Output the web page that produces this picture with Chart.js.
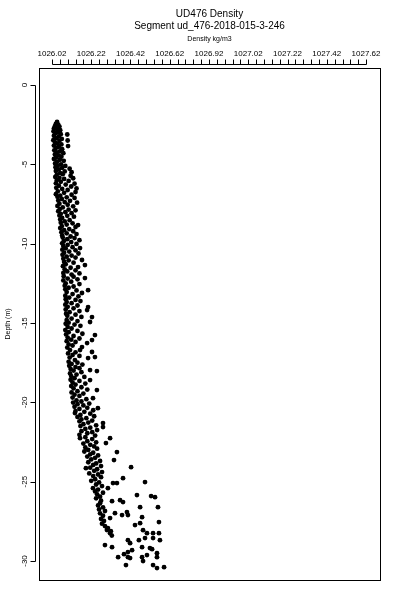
<!DOCTYPE html>
<html>
<head>
<meta charset="utf-8">
<script src="https://cdn.jsdelivr.net/npm/chart.js@4/dist/chart.umd.min.js"></script>
<style>
  html, body { margin: 0; padding: 0; background: #fff; }
  canvas { display: block; }
</style>
</head>
<body>
<canvas id="density-profile" width="400" height="600"></canvas>
<script>
// tick labels as printed on the original plot
var xTickLabels = ["1026.02", "1026.22", "1026.42", "1026.62", "1026.92", "1027.02", "1027.22", "1027.42", "1027.62"];
var xTickValues = [];
for (var i = 0; i <= 40; i++) xTickValues.push(+(1026.02 + i * 0.04).toFixed(2));
var yTickValues = [0, -5, -10, -15, -20, -25, -30];

// [density kg/m3, depth m]
var surfaceLayer = [
  [1026.046,-2.33],[1026.040,-2.45],[1026.052,-2.50],[1026.035,-2.60],[1026.058,-2.62],[1026.030,-2.75],[1026.045,-2.78],[1026.062,-2.85],
  [1026.028,-2.92],[1026.050,-2.98],[1026.038,-3.05],[1026.065,-3.10],[1026.098,-3.12],[1026.030,-3.20],[1026.055,-3.25],[1026.042,-3.35],
  [1026.070,-3.40],[1026.027,-3.48],[1026.058,-3.52],[1026.100,-3.50],[1026.036,-3.62],[1026.048,-3.70],[1026.068,-3.75],[1026.030,-3.82],
  [1026.102,-3.85],[1026.055,-3.90],[1026.040,-3.98],[1026.072,-4.05],[1026.032,-4.12],[1026.060,-4.18],[1026.045,-4.25],[1026.078,-4.30],
  [1026.035,-4.38],[1026.055,-4.45],[1026.068,-4.52],[1026.040,-4.58],[1026.030,-4.66],[1026.060,-4.72],[1026.080,-4.78],[1026.045,-4.85],
  [1026.036,-4.95],[1026.066,-5.00],
  [1026.050,-5.08],[1026.088,-5.10],[1026.038,-5.18],[1026.072,-5.22],[1026.110,-5.28],[1026.055,-5.32],[1026.040,-5.42],[1026.085,-5.45],
  [1026.120,-5.50],[1026.062,-5.55],[1026.045,-5.65],[1026.075,-5.62],[1026.115,-5.72],[1026.037,-5.80],[1026.058,-5.85],[1026.128,-5.88],
  [1026.082,-5.92],[1026.045,-6.00],[1026.105,-6.05],[1026.065,-6.10],[1026.040,-6.20],[1026.135,-6.22],[1026.090,-6.28],[1026.055,-6.35],
  [1026.118,-6.40],[1026.042,-6.48],[1026.145,-6.52],[1026.072,-6.55],[1026.100,-6.62],[1026.050,-6.70],[1026.140,-6.75],[1026.082,-6.80],
  [1026.040,-6.88],[1026.120,-6.92],[1026.062,-6.98]
];

var upperLayer = [
  [1026.048,-7.05],[1026.095,-7.08],[1026.135,-7.12],[1026.070,-7.18],[1026.052,-7.28],[1026.112,-7.30],[1026.085,-7.38],[1026.148,-7.42],
  [1026.058,-7.48],[1026.100,-7.55],[1026.048,-7.62],[1026.128,-7.65],[1026.075,-7.72],[1026.060,-7.82],[1026.105,-7.85],[1026.140,-7.90],
  [1026.052,-7.96],[1026.088,-8.02],[1026.120,-8.08],[1026.065,-8.12],[1026.058,-8.22],[1026.098,-8.25],[1026.132,-8.30],[1026.072,-8.38],
  [1026.062,-8.48],[1026.110,-8.52],[1026.085,-8.60],[1026.153,-8.83],[1026.065,-8.68],[1026.125,-8.72],[1026.095,-8.80],[1026.070,-8.90],
  [1026.140,-8.95],[1026.062,-9.02],[1026.108,-9.08],[1026.082,-9.15],[1026.128,-9.22],[1026.068,-9.28],[1026.095,-9.35],[1026.145,-9.40],
  [1026.072,-9.48],[1026.115,-9.55],
  [1026.075,-9.62],[1026.135,-9.65],[1026.098,-9.72],[1026.160,-9.78],[1026.080,-9.85],[1026.118,-9.90],[1026.072,-9.98],[1026.145,-10.02],
  [1026.100,-10.08],[1026.078,-10.15],[1026.163,-10.28],[1026.125,-10.22],[1026.090,-10.30],[1026.073,-10.38],[1026.140,-10.42],[1026.108,-10.50],
  [1026.082,-10.58],[1026.155,-10.62],[1026.074,-10.70],[1026.120,-10.75],[1026.095,-10.82],[1026.140,-10.88],[1026.078,-10.95],[1026.173,-11.03],
  [1026.105,-11.05],[1026.082,-11.15],[1026.130,-11.20],[1026.188,-11.35],[1026.090,-11.30],[1026.153,-11.48],[1026.076,-11.42],[1026.115,-11.52],
  [1026.085,-11.62],[1026.140,-11.68],[1026.098,-11.75],[1026.078,-11.85],[1026.160,-11.88],[1026.120,-11.95]
];

var middleLayer = [
  [1026.080,-12.05],[1026.130,-12.08],[1026.188,-12.17],[1026.100,-12.20],[1026.150,-12.25],[1026.078,-12.32],[1026.118,-12.40],[1026.090,-12.50],
  [1026.160,-12.55],[1026.085,-12.65],[1026.130,-12.70],[1026.105,-12.78],[1026.204,-12.93],[1026.088,-12.88],[1026.145,-12.95],[1026.173,-13.11],
  [1026.095,-13.05],[1026.125,-13.18],[1026.088,-13.28],[1026.155,-13.32],[1026.108,-13.40],[1026.090,-13.50],[1026.140,-13.55],[1026.165,-13.62],
  [1026.095,-13.68],[1026.120,-13.75],[1026.088,-13.85],[1026.150,-13.90],[1026.204,-14.00],[1026.100,-13.98],[1026.130,-14.08],[1026.199,-14.19],
  [1026.090,-14.15],[1026.160,-14.25],[1026.110,-14.32],[1026.092,-14.42],[1026.140,-14.48],[1026.224,-14.63],[1026.098,-14.55],[1026.170,-14.62],
  [1026.120,-14.72],[1026.095,-14.82],[1026.214,-14.94],[1026.150,-14.88],[1026.105,-14.98],
  [1026.090,-15.05],[1026.135,-15.10],[1026.165,-15.18],[1026.100,-15.25],[1026.120,-15.35],[1026.088,-15.45],[1026.150,-15.50],[1026.105,-15.58],
  [1026.239,-15.76],[1026.175,-15.68],[1026.092,-15.72],[1026.130,-15.82],[1026.100,-15.92],[1026.160,-15.98],[1026.224,-16.08],[1026.118,-16.05],
  [1026.095,-16.15],[1026.140,-16.20],[1026.199,-16.27],[1026.105,-16.35],[1026.125,-16.42],[1026.173,-16.52],[1026.098,-16.55],[1026.163,-16.71],
  [1026.112,-16.71],[1026.224,-16.83],[1026.140,-16.85],[1026.102,-16.92],[1026.125,-17.02],[1026.160,-17.08],[1026.239,-17.15],[1026.204,-17.21],
  [1026.110,-17.18],[1026.137,-17.34],
  [1026.105,-17.45],[1026.150,-17.50],[1026.120,-17.58],[1026.175,-17.62],[1026.108,-17.70],[1026.140,-17.78],[1026.160,-17.85],[1026.115,-17.90],
  [1026.214,-17.97],[1026.249,-18.03],[1026.130,-18.00],[1026.170,-18.10],[1026.112,-18.18],[1026.145,-18.25],[1026.118,-18.35],[1026.185,-18.40],
  [1026.135,-18.48],[1026.214,-18.60],[1026.115,-18.58],[1026.160,-18.65],[1026.125,-18.75],[1026.190,-18.82],[1026.140,-18.88],[1026.118,-18.98],
  [1026.170,-19.05],[1026.130,-19.12],[1026.249,-19.23],[1026.200,-19.20],[1026.150,-19.30],[1026.120,-19.38],[1026.180,-19.45],[1026.135,-19.52],
  [1026.160,-19.60],[1026.229,-19.74],[1026.125,-19.70],[1026.195,-19.80],[1026.145,-19.88],[1026.170,-19.95]
];

var lowerLayer = [
  [1026.128,-20.02],[1026.210,-20.08],[1026.150,-20.12],[1026.180,-20.20],[1026.135,-20.28],[1026.254,-20.37],[1026.200,-20.35],[1026.160,-20.42],
  [1026.230,-20.50],[1026.140,-20.55],[1026.185,-20.60],[1026.137,-20.68],[1026.215,-20.72],[1026.165,-20.80],[1026.235,-20.88],[1026.150,-20.92],
  [1026.195,-21.00],[1026.170,-21.08],[1026.225,-21.15],[1026.160,-21.20],[1026.280,-21.31],[1026.205,-21.28],[1026.180,-21.38],[1026.245,-21.45],
  [1026.165,-21.50],[1026.280,-21.56],[1026.215,-21.60],[1026.190,-21.68],[1026.250,-21.75],[1026.170,-21.82],[1026.225,-21.88],[1026.200,-21.95],
  [1026.160,-22.05],[1026.240,-22.10],
  [1026.163,-22.26],[1026.316,-22.26],[1026.190,-22.20],[1026.225,-22.32],[1026.295,-22.57],[1026.200,-22.45],[1026.245,-22.52],[1026.180,-22.60],
  [1026.215,-22.68],[1026.235,-22.78],[1026.190,-22.85],[1026.250,-22.92],[1026.205,-23.00],[1026.351,-23.14],[1026.185,-23.10],[1026.230,-23.18],
  [1026.215,-23.28],[1026.255,-23.35],[1026.200,-23.42],[1026.240,-23.50],[1026.336,-23.64],[1026.220,-23.60],[1026.265,-23.70],[1026.205,-23.78],
  [1026.245,-23.85],[1026.230,-23.95],[1026.270,-24.02],[1026.423,-24.09],[1026.193,-24.15],[1026.215,-24.12],[1026.250,-24.22],[1026.235,-24.32],
  [1026.275,-24.40],[1026.210,-24.48],[1026.255,-24.55],[1026.230,-24.65],[1026.382,-24.78],[1026.270,-24.72],[1026.240,-24.85],[1026.220,-24.95],
  [1026.494,-25.03],[1026.331,-25.09],[1026.351,-25.09],[1026.260,-25.05],[1026.245,-25.18],[1026.275,-25.28],[1026.229,-25.41],[1026.305,-25.41],
  [1026.255,-25.50],[1026.240,-25.62],[1026.280,-25.70],[1026.453,-25.85],[1026.250,-25.80],[1026.525,-25.91],[1026.545,-25.98],[1026.265,-25.95],
  [1026.245,-26.05],[1026.367,-26.17],[1026.326,-26.23],[1026.382,-26.29],[1026.270,-26.20],[1026.265,-26.36]
];

var bottomLayer = [
  [1026.469,-26.61],[1026.560,-26.61],[1026.255,-26.50],[1026.280,-26.62],[1026.260,-26.75],[1026.290,-26.85],[1026.341,-26.99],[1026.402,-26.92],
  [1026.377,-27.11],[1026.407,-27.11],[1026.265,-27.00],[1026.280,-27.15],[1026.316,-27.30],[1026.479,-27.24],[1026.270,-27.35],[1026.285,-27.48],
  [1026.565,-27.55],[1026.469,-27.62],[1026.443,-27.74],[1026.275,-27.65],[1026.290,-27.80],[1026.305,-27.93],[1026.300,-28.05],[1026.484,-28.06],
  [1026.320,-28.12],[1026.316,-28.25],[1026.504,-28.25],[1026.535,-28.25],[1026.565,-28.25],[1026.325,-28.40],[1026.494,-28.56],[1026.535,-28.56],
  [1026.463,-28.69],[1026.570,-28.69],[1026.407,-28.69],[1026.418,-28.88],[1026.290,-29.00],[1026.326,-29.13],[1026.479,-29.13],[1026.519,-29.19],
  [1026.530,-29.26],[1026.428,-29.32],[1026.407,-29.44],[1026.555,-29.51],[1026.387,-29.57],[1026.504,-29.63],[1026.357,-29.76],[1026.407,-29.76],
  [1026.479,-29.76],[1026.555,-29.76],[1026.418,-29.82],[1026.484,-30.01],[1026.397,-30.26],[1026.535,-30.26],[1026.591,-30.39],[1026.555,-30.45]
];

var samples = [].concat(surfaceLayer, upperLayer, middleLayer, lowerLayer, bottomLayer)
  .map(function (p) { return { x: p[0], y: p[1] }; });

// R-style frame: box round the plot, axis lines set off from it with outward ticks
var frame = {
  id: 'frame',
  afterDraw: function (chart) {
    var ctx = chart.ctx, a = chart.chartArea;
    var xs = chart.scales.x, ys = chart.scales.y;
    ctx.save();
    ctx.strokeStyle = '#000';
    ctx.lineWidth = 1;
    ctx.strokeRect(Math.round(a.left) + 0.5, Math.round(a.top) + 0.5,
      Math.round(a.right - a.left), Math.round(a.bottom - a.top));

    var ax = Math.round(a.top) - 4 + 0.5;
    ctx.beginPath();
    ctx.moveTo(Math.round(xs.getPixelForValue(xTickValues[0])) + 0.5, ax);
    ctx.lineTo(Math.round(xs.getPixelForValue(xTickValues[xTickValues.length - 1])) + 0.5, ax);
    xTickValues.forEach(function (v) {
      var px = Math.round(xs.getPixelForValue(v)) + 0.5;
      ctx.moveTo(px, ax);
      ctx.lineTo(px, ax - 5);
    });

    var ay = Math.round(a.left) - 4 + 0.5;
    ctx.moveTo(ay, Math.round(ys.getPixelForValue(yTickValues[0])) + 0.5);
    ctx.lineTo(ay, Math.round(ys.getPixelForValue(yTickValues[yTickValues.length - 1])) + 0.5);
    yTickValues.forEach(function (v) {
      var py = Math.round(ys.getPixelForValue(v)) + 0.5;
      ctx.moveTo(ay, py);
      ctx.lineTo(ay - 5, py);
    });
    ctx.stroke();
    ctx.restore();
  }
};

Chart.defaults.font.family = '"Liberation Sans", Arial, sans-serif';
Chart.defaults.color = '#000';

new Chart(document.getElementById("density-profile"), {
  type: 'scatter',
  data: {
    datasets: [{
      label: "Density",
      data: samples,
      backgroundColor: '#000',
      borderWidth: 0,
      pointRadius: 2.4,
      pointHoverRadius: 2.4
    }]
  },
  options: {
    responsive: false,
    animation: false,
    events: [],
    layout: { padding: { left: 0, right: 20, top: 0, bottom: 20 } },
    plugins: {
      legend: { display: false },
      tooltip: { enabled: false },
      title: {
        display: true,
        fullSize: false,
        text: ["UD476 Density", "Segment ud_476-2018-015-3-246"],
        font: { size: 10, weight: 'normal', lineHeight: 1.2 },
        padding: { top: 8, bottom: 0 }
      }
    },
    scales: {
      x: {
        type: 'linear',
        position: 'top',
        min: 1025.954,
        max: 1027.691,
        afterBuildTicks: function (scale) {
          scale.ticks = xTickValues.map(function (v) { return { value: v }; });
        },
        afterFit: function (scale) { scale.height = 36; },
        grid: { display: false, drawTicks: false },
        border: { display: false },
        ticks: {
          autoSkip: false,
          maxRotation: 0,
          padding: 9,
          font: { size: 8 },
          callback: function (v, i) { return i % 5 === 0 ? xTickLabels[i / 5] : ''; }
        },
        title: {
          display: true,
          text: "Density kg/m3",
          font: { size: 7 },
          padding: { top: 3, bottom: 0 }
        }
      },
      y: {
        type: 'linear',
        min: -31.2,
        max: 1.07,
        afterBuildTicks: function (scale) {
          scale.ticks = yTickValues.map(function (v) { return { value: v }; });
        },
        afterFit: function (scale) { scale.width = 39; },
        grid: { display: false, drawTicks: false },
        border: { display: false },
        ticks: {
          minRotation: 90,
          maxRotation: 90,
          crossAlign: 'center',
          padding: 8,
          font: { size: 8 },
          callback: function (v) { return String(v); }
        },
        title: {
          display: true,
          text: "Depth (m)",
          font: { size: 7 },
          padding: { top: 4, bottom: 0 }
        }
      }
    }
  },
  plugins: [frame]
});
</script>
</body>
</html>
